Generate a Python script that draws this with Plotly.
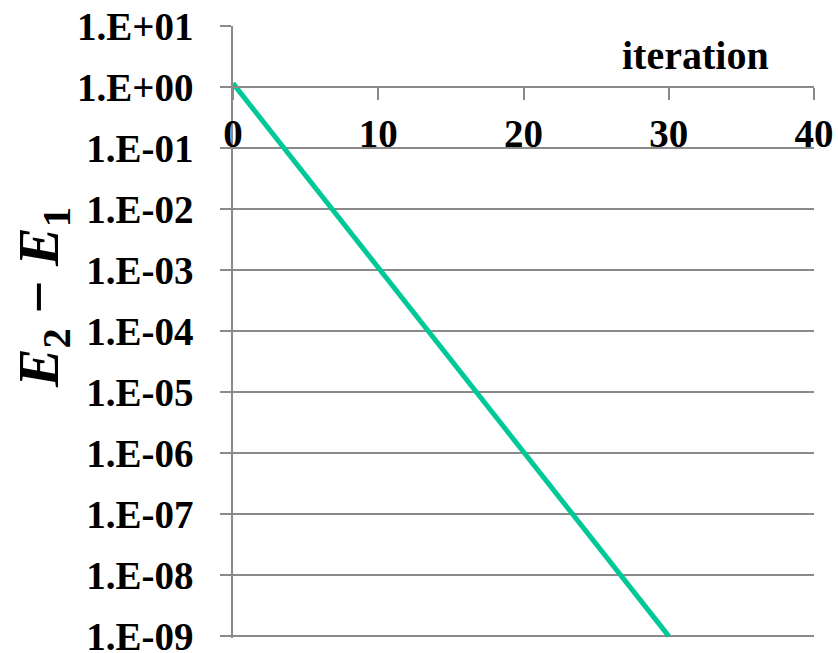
import plotly.graph_objects as go

# Energy gap per iteration (log scale)
iterations = list(range(0, 31))
gap = [1.15, 5.73e-1, 2.86e-1, 1.43e-1, 7.11e-2, 3.55e-2, 1.77e-2, 8.83e-3, 4.41e-3, 2.20e-3,
       1.10e-3, 5.47e-4, 2.73e-4, 1.36e-4, 6.79e-5, 3.39e-5, 1.69e-5, 8.43e-6, 4.21e-6, 2.10e-6,
       1.05e-6, 5.22e-7, 2.61e-7, 1.30e-7, 6.49e-8, 3.24e-8, 1.61e-8, 8.05e-9, 4.02e-9, 2.00e-9,
       1.00e-9]

y_tickvals = [1e1, 1e0, 1e-1, 1e-2, 1e-3, 1e-4, 1e-5, 1e-6, 1e-7, 1e-8, 1e-9]
y_ticktext = ["1.E+01", "1.E+00", "1.E-01", "1.E-02", "1.E-03", "1.E-04",
              "1.E-05", "1.E-06", "1.E-07", "1.E-08", "1.E-09"]
x_tickvals = [0, 10, 20, 30, 40]

FONT = "Liberation Serif, Times New Roman, serif"
GRID = "#8a8a8a"
YMIN, YMAX = -9.03, 1.0005
DECADE = 61.0  # pixels per decade
PLOT_H = DECADE * (YMAX - YMIN)
TOP = 26 - DECADE * (YMAX - 1)

fig = go.Figure()
fig.add_trace(go.Scatter(
    x=iterations, y=gap, mode="lines", xaxis="x2", yaxis="y",
    line=dict(color="rgb(0,200,150)", width=5),
    showlegend=False, hoverinfo="skip",
))

# paper-fraction helper for a pixel row
def py(pix):
    return (TOP + PLOT_H - pix) / PLOT_H

fig.update_layout(
    width=838, height=653,
    margin=dict(l=233, r=24, t=TOP, b=653 - TOP - PLOT_H, autoexpand=False),
    paper_bgcolor="white", plot_bgcolor="white",
    font=dict(family=FONT, size=39, color="black"),
    # bottom frame axis, kept invisible
    xaxis=dict(range=[0, 40], visible=False, showgrid=False, zeroline=False,
               automargin=False),
    # labelled axis crossing at 1.E+00
    xaxis2=dict(
        range=[0, 40], overlaying="x", anchor="free",
        position=(0 - YMIN) / (YMAX - YMIN), side="bottom",
        tickvals=x_tickvals, ticktext=[f"<b>{v}</b>" for v in x_tickvals],
        ticks="outside", ticklen=12, tickwidth=1.5, tickcolor=GRID,
        showline=True, linecolor=GRID, linewidth=1.5,
        showgrid=False, zeroline=False, automargin=False,
        ticklabelstandoff=0, ticklabeloverflow="allow",
        tickfont=dict(family=FONT, size=39, color="black"),
    ),
    yaxis=dict(
        type="log", range=[YMIN, YMAX], anchor="x",
        tickvals=y_tickvals, ticktext=[f"<b>{t}</b>" for t in y_ticktext],
        ticks="outside", ticklen=11, tickwidth=1.5, tickcolor=GRID,
        showline=True, linecolor=GRID, linewidth=1.5,
        showgrid=True, gridcolor=GRID, gridwidth=1.5,
        zeroline=False, automargin=False,
        ticklabelstandoff=19, ticklabeloverflow="allow",
        tickfont=dict(family=FONT, size=39, color="black"),
    ),
    annotations=[
        dict(
            text="<b>iteration</b>", xref="paper", yref="paper",
            x=(695 - 233) / 581, y=py(55),
            xanchor="center", yanchor="middle", showarrow=False,
            font=dict(family=FONT, size=40, color="black"),
        ),
        dict(
            text="<b><i>E</i></b><sub><b>2</b></sub><b> − </b><b><i>E</i></b><sub><b>1</b></sub>",
            xref="paper", yref="paper",
            x=(42 - 233) / 581, y=py(298),
            xanchor="center", yanchor="middle", showarrow=False, textangle=-90,
            font=dict(family=FONT, size=58, color="black"),
        ),
    ],
)

fig.write_html("out.html")
